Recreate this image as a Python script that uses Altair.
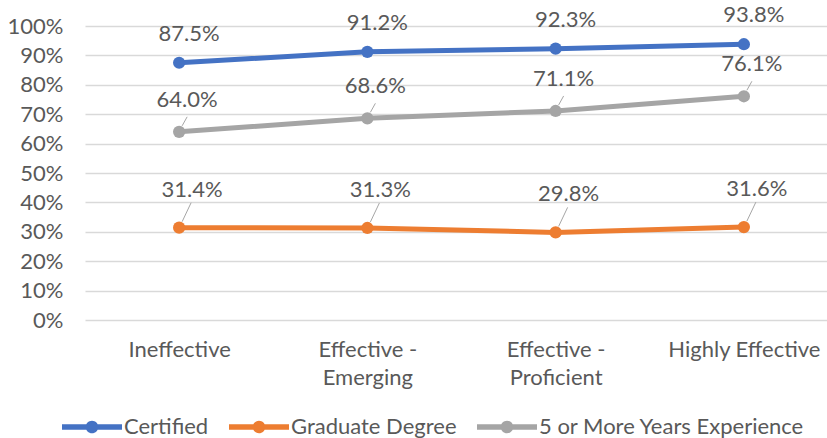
import altair as alt
import pandas as pd

categories = ["Ineffective", "Effective - Emerging", "Effective - Proficient", "Highly Effective"]
series_names = ["Certified", "Graduate Degree", "5 or More Years Experience"]
certified = [0.875, 0.912, 0.923, 0.938]
graduate = [0.314, 0.313, 0.298, 0.316]
experience = [0.640, 0.686, 0.711, 0.761]
colors = ["#4472C4", "#ED7D31", "#A5A5A5"]

rows = []
for name, vals in zip(series_names, [certified, graduate, experience]):
    for c, v in zip(categories, vals):
        rows.append({"category": c, "series": name, "value": v})
df = pd.DataFrame(rows)

FONT = "Lato"
TXT = "#595959"
FS = 22

legend_path = ("M-1,-0.09 L1,-0.09 L1,0.09 L-1,0.09 Z "
               "M0.21,0 A0.21,0.21 0 1,1 -0.21,0 A0.21,0.21 0 1,1 0.21,0 Z")

x_enc = alt.X("category:N", sort=categories,
              scale=alt.Scale(type="point", range=[0, 753], padding=0.5),
              axis=alt.Axis(title=None, labelAngle=0, domain=False, ticks=False, grid=False,
                            labelPadding=19, labelFontSize=FS, labelFont=FONT, labelColor=TXT,
                            labelLineHeight=28,
                            labelExpr="indexof(datum.label, ' - ') > 0 ? [slice(datum.label, 0, indexof(datum.label, ' - ') + 2), slice(datum.label, indexof(datum.label, ' - ') + 3)] : datum.label"))
y_enc = alt.Y("value:Q", scale=alt.Scale(domain=[0, 1]),
              axis=alt.Axis(title=None, format=".0%", values=[i / 10 for i in range(11)],
                            grid=True, gridColor="#d9d9d9", gridWidth=1.3, domain=False, ticks=False,
                            labelPadding=22, labelFontSize=FS, labelFont=FONT, labelColor=TXT))
color_scale = alt.Scale(domain=series_names, range=colors)
legend = alt.Legend(title=None, orient="none", legendX=-23, legendY=371,
                    direction="horizontal", symbolType=legend_path,
                    symbolSize=3600, symbolStrokeWidth=0, symbolOpacity=1,
                    labelFontSize=FS, labelFont=FONT, labelColor=TXT, labelLimit=500,
                    columnPadding=20, labelOffset=2, symbolOffset=0)

base = alt.Chart(df).encode(x=x_enc, y=y_enc)

line = base.mark_line(strokeWidth=5).encode(
    color=alt.Color("series:N", scale=color_scale, sort=series_names, legend=legend),
    detail="series:N")

points = base.mark_point(filled=True, size=150, opacity=1).encode(
    color=alt.Color("series:N", scale=color_scale, sort=series_names, legend=legend))

leader_gray = base.transform_filter(alt.datum.series == "5 or More Years Experience").mark_rule(
    color="#a6a6a6", strokeWidth=1, xOffset=3, yOffset=-6, x2Offset=8, y2Offset=-15
).encode(x2="category:N", y2="value:Q")
leader_orange = base.transform_filter(alt.datum.series == "Graduate Degree").mark_rule(
    color="#a6a6a6", strokeWidth=1, xOffset=3, yOffset=-6, x2Offset=12, y2Offset=-25
).encode(x2="category:N", y2="value:Q")

def labels(name, dx, dy):
    return base.transform_filter(alt.datum.series == name).mark_text(
        dx=dx, dy=dy, fontSize=FS, font=FONT, color=TXT
    ).encode(text=alt.Text("value:Q", format=".1%"))

chart = alt.layer(
    leader_gray, leader_orange, line, points,
    labels("Certified", 10, -29),
    labels("5 or More Years Experience", 8, -32),
    labels("Graduate Degree", 13, -38),
).properties(
    width=742, height=294,
    autosize=alt.AutoSizeParams(type="none"),
    padding={"left": 85, "top": 26, "right": 0, "bottom": 118},
).configure_view(stroke=None)

chart.save("out.html", embed_options={"renderer": "svg", "actions": False})
